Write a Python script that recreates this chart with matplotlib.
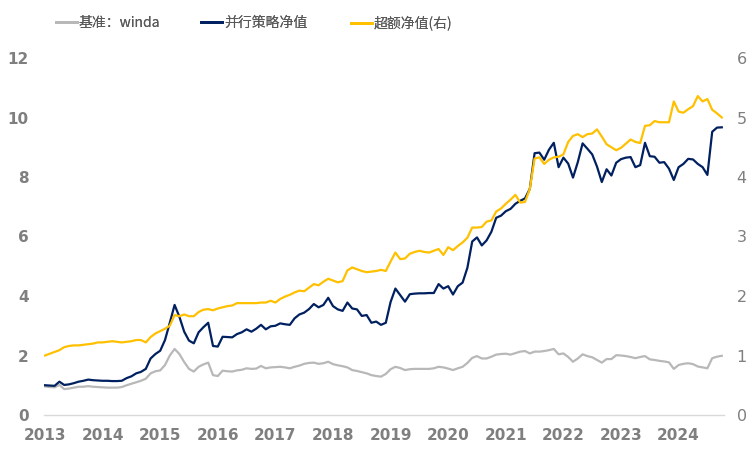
import matplotlib
matplotlib.use("Agg")
import matplotlib.pyplot as plt
from matplotlib.lines import Line2D

# ---- data (monthly, Jan 2013 .. Oct 2024) ----
years = ["2013", "2014", "2015", "2016", "2017", "2018", "2019",
         "2020", "2021", "2022", "2023", "2024"]

strategy = [
    1.00, 0.99, 0.98, 1.12, 1.01, 1.03, 1.07, 1.12, 1.15, 1.19, 1.17, 1.16,
    1.15, 1.15, 1.14, 1.14, 1.15, 1.24, 1.30, 1.40, 1.45, 1.55, 1.90, 2.05,
    2.16, 2.52, 3.10, 3.70, 3.30, 2.80, 2.50, 2.41, 2.78, 2.95, 3.10, 2.32,
    2.30, 2.63, 2.62, 2.61, 2.72, 2.78, 2.88, 2.80, 2.90, 3.03, 2.88, 2.98,
    3.00, 3.08, 3.05, 3.03, 3.25, 3.38, 3.44, 3.56, 3.73, 3.62, 3.70, 3.94,
    3.66, 3.55, 3.50, 3.78, 3.58, 3.55, 3.33, 3.36, 3.10, 3.14, 3.03, 3.10,
    3.80, 4.25, 4.03, 3.81, 4.06, 4.08, 4.09, 4.09, 4.10, 4.10, 4.40, 4.25,
    4.33, 4.05, 4.33, 4.45, 4.95, 5.83, 5.97, 5.70, 5.87, 6.16, 6.63, 6.70,
    6.85, 6.93, 7.10, 7.20, 7.28, 7.60, 8.80, 8.82, 8.58, 8.92, 9.15, 8.33,
    8.65, 8.45, 7.98, 8.50, 9.13, 8.95, 8.76, 8.35, 7.83, 8.26, 8.05, 8.48,
    8.60, 8.65, 8.67, 8.33, 8.40, 9.15, 8.70, 8.68, 8.48, 8.50, 8.28, 7.90,
    8.33, 8.44, 8.61, 8.59, 8.44, 8.33, 8.07, 9.52, 9.66, 9.67,
]

benchmark = [
    0.96, 0.94, 0.93, 1.01, 0.87, 0.89, 0.92, 0.95, 0.95, 0.97, 0.95, 0.94,
    0.93, 0.92, 0.92, 0.92, 0.94, 1.00, 1.05, 1.10, 1.15, 1.22, 1.40, 1.47,
    1.50, 1.68, 2.00, 2.22, 2.05, 1.78, 1.55, 1.46, 1.62, 1.70, 1.76, 1.34,
    1.31, 1.49, 1.47, 1.46, 1.50, 1.52, 1.57, 1.55, 1.56, 1.65, 1.57, 1.60,
    1.61, 1.62, 1.60, 1.57, 1.62, 1.66, 1.72, 1.75, 1.76, 1.72, 1.74, 1.79,
    1.71, 1.67, 1.64, 1.60, 1.51, 1.48, 1.44, 1.40, 1.34, 1.31, 1.29, 1.38,
    1.54, 1.62, 1.58, 1.51, 1.54, 1.55, 1.55, 1.55, 1.55, 1.57, 1.62, 1.60,
    1.56, 1.51, 1.57, 1.62, 1.75, 1.92, 1.98, 1.90, 1.90, 1.96, 2.03, 2.05,
    2.06, 2.03, 2.08, 2.13, 2.15, 2.07, 2.13, 2.13, 2.15, 2.18, 2.22, 2.04,
    2.07, 1.95, 1.79, 1.90, 2.04, 1.98, 1.94, 1.85, 1.76, 1.88, 1.88, 2.01,
    2.00, 1.98, 1.95, 1.91, 1.95, 1.98, 1.87, 1.85, 1.82, 1.80, 1.77, 1.55,
    1.68, 1.72, 1.74, 1.71, 1.63, 1.60, 1.57, 1.91, 1.96, 1.99,
]

excess = [
    1.00, 1.03, 1.06, 1.09, 1.14, 1.16, 1.17, 1.17, 1.18, 1.19, 1.20, 1.22,
    1.22, 1.23, 1.24, 1.23, 1.22, 1.23, 1.24, 1.26, 1.26, 1.22, 1.31, 1.37,
    1.41, 1.45, 1.50, 1.68, 1.66, 1.69, 1.66, 1.66, 1.73, 1.77, 1.78, 1.76,
    1.79, 1.81, 1.83, 1.84, 1.88, 1.88, 1.88, 1.88, 1.88, 1.89, 1.89, 1.92,
    1.89, 1.95, 1.99, 2.02, 2.06, 2.09, 2.08, 2.14, 2.20, 2.18, 2.24, 2.29,
    2.26, 2.23, 2.25, 2.43, 2.48, 2.45, 2.42, 2.40, 2.41, 2.42, 2.44, 2.42,
    2.58, 2.73, 2.62, 2.63, 2.71, 2.74, 2.76, 2.74, 2.73, 2.76, 2.79, 2.69,
    2.82, 2.77, 2.84, 2.90, 2.98, 3.15, 3.15, 3.16, 3.25, 3.27, 3.42, 3.47,
    3.55, 3.62, 3.70, 3.57, 3.58, 3.80, 4.31, 4.33, 4.22, 4.29, 4.33, 4.34,
    4.38, 4.59, 4.69, 4.72, 4.67, 4.72, 4.73, 4.80, 4.68, 4.55, 4.50, 4.45,
    4.49, 4.56, 4.63, 4.59, 4.57, 4.86, 4.87, 4.94, 4.92, 4.92, 4.92, 5.27,
    5.10, 5.08, 5.14, 5.19, 5.36, 5.27, 5.31, 5.13, 5.07, 5.00,
]

legend_labels = ["基准：winda", "并行策略净值", "超额净值(右)"]

months = list(range(len(strategy)))
year_pos = [12 * i for i in range(len(years))]

GRAY = "#B8B8B8"
NAVY = "#002060"
GOLD = "#FFC000"
TXT = "#7F7F7F"

plt.rcParams['font.family'] = ['Noto Sans CJK SC', 'DejaVu Sans']

fig = plt.figure(figsize=(7.56, 4.5), dpi=100)
x0, x1 = -0.2, 141.5
left_px = 45 + 4.8 * x0
right_px = 45 + 4.8 * x1
ax = fig.add_axes([left_px / 756, (450 - 415) / 450,
                   (right_px - left_px) / 756, (415 - 58) / 450])
ax2 = ax.twinx()

l1, = ax.plot(months, benchmark, color=GRAY, lw=1.6)
l2, = ax.plot(months, strategy, color=NAVY, lw=1.6)
l3, = ax2.plot(months, excess, color=GOLD, lw=1.6)

ax.set_xlim(x0, x1)
ax.set_ylim(0, 12)
ax2.set_ylim(0, 6)
ax.set_yticks(range(0, 13, 2))
ax2.set_yticks(range(0, 7, 1))
ax.set_xticks(year_pos)
ax.set_xticklabels(years)

for a in (ax, ax2):
    for s in a.spines.values():
        s.set_visible(False)
ax.spines['bottom'].set_visible(True)
ax.spines['bottom'].set_color("#D9D9D9")
ax.spines['bottom'].set_linewidth(1.0)

ax.tick_params(axis='x', length=0, pad=9, labelcolor=TXT, labelsize=11)
ax.tick_params(axis='y', length=0, pad=11, labelcolor=TXT, labelsize=11)
ax2.tick_params(axis='y', length=0, pad=9, labelcolor=TXT, labelsize=11.5)
for lab in ax.get_xticklabels() + ax.get_yticklabels():
    lab.set_fontfamily('DejaVu Sans')
    lab.set_fontweight('bold')
for lab in ax2.get_yticklabels():
    lab.set_fontfamily('DejaVu Sans')

colors = [GRAY, NAVY, GOLD]
anchors_px = [56, 201, 351]
for c, lab, xp in zip(colors, legend_labels, anchors_px):
    leg = fig.legend([Line2D([], [], color=c, lw=2)], [lab], loc='center left',
                     bbox_to_anchor=(xp / 756, 1 - 23 / 450), frameon=False,
                     handlelength=1.5, handletextpad=0.15, borderpad=0,
                     borderaxespad=0,
                     prop={'family': ['Noto Sans CJK SC', 'DejaVu Sans'],
                           'size': 10},
                     labelcolor="#595959")
    fig.add_artist(leg)

fig.savefig("out.png", dpi=100)
